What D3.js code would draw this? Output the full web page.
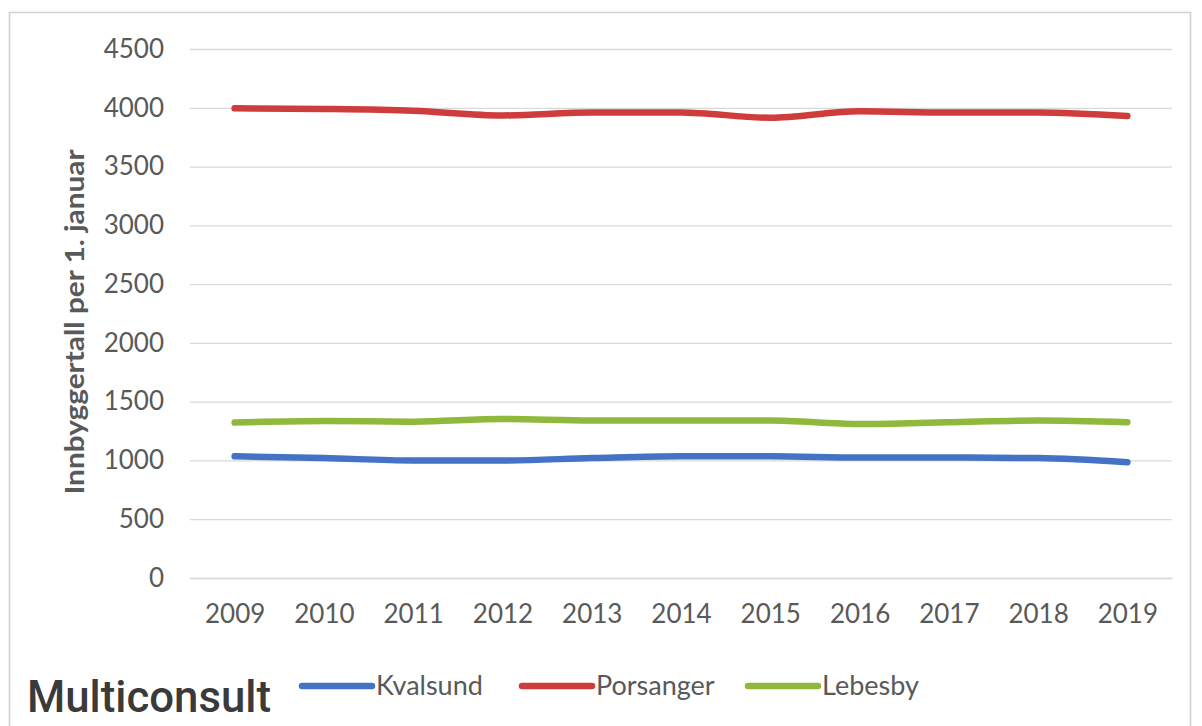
<!DOCTYPE html>
<html><head><meta charset="utf-8">
<script src="https://cdn.jsdelivr.net/npm/d3@7"></script>
<style>body{margin:0;background:#fff;} svg{display:block;}</style>
</head><body>
<svg id="c" width="1202" height="726"></svg>
<script>
const years = ["2009","2010","2011","2012","2013","2014","2015","2016","2017","2018","2019"];
const kvalsund = [1035, 1020, 1000, 1000, 1020, 1035, 1035, 1025, 1025, 1020, 985];
const porsanger = [3995, 3990, 3975, 3935, 3960, 3960, 3915, 3970, 3960, 3960, 3930];
const lebesby = [1322, 1335, 1330, 1352, 1340, 1340, 1340, 1310, 1325, 1340, 1325];
const yTicks = [0, 500, 1000, 1500, 2000, 2500, 3000, 3500, 4000, 4500];
const seriesNames = ["Kvalsund", "Porsanger", "Lebesby"];
const seriesColors = ["#4472c4", "#cf3c3c", "#8fb83c"];
const yTitle = "Innbyggertall per 1. januar";

const series = [kvalsund, porsanger, lebesby].map((v, i) => ({name: seriesNames[i], color: seriesColors[i], values: v}));
const svg = d3.select("#c");
const font = "Lato, 'Open Sans', sans-serif";

// frame
svg.append("path").attr("d", "M9.5,740 V12.5 H1190.5 V740")
  .attr("fill", "none").attr("stroke", "#d0d0d0").attr("stroke-width", 1.5);

const x = d3.scalePoint().domain(years).range([190, 1172]).padding(0.5);
const y = d3.scaleLinear().domain([0, 4500]).range([578, 49]);

// gridlines
svg.append("g").attr("transform", "translate(190,0)")
  .call(d3.axisLeft(y).tickValues(yTicks).tickSize(-(1172 - 190)).tickFormat(""))
  .call(g => g.select(".domain").remove())
  .call(g => g.selectAll("line").attr("stroke", "#d9d9d9").attr("stroke-width", 1.3));

// y labels
const yAx = svg.append("g").attr("transform", "translate(190,0)")
  .call(d3.axisLeft(y).tickValues(yTicks).tickSize(0).tickPadding(26).tickFormat(d3.format("d")));
yAx.select(".domain").remove();
yAx.selectAll("text").attr("font-family", font).attr("font-size", 26).attr("fill", "#595959");

// x labels
const xAx = svg.append("g").attr("transform", "translate(0,578)")
  .call(d3.axisBottom(x).tickSize(0).tickPadding(27));
xAx.select(".domain").attr("stroke", "#d9d9d9").attr("stroke-width", 1.3);
xAx.selectAll("text").attr("font-family", font).attr("font-size", 26).attr("fill", "#595959");

// y title
svg.append("text").attr("transform", "translate(84,322) rotate(-90)")
  .attr("text-anchor", "middle").attr("font-family", font).attr("font-weight", "bold")
  .attr("font-size", 27).attr("fill", "#595959")
  .attr("textLength", 345).attr("lengthAdjust", "spacingAndGlyphs").text(yTitle);

// lines
const line = d3.line().x((d, i) => x(years[i])).y(d => y(d)).curve(d3.curveMonotoneX);
svg.append("g").selectAll("path").data(series).join("path")
  .attr("d", d => line(d.values)).attr("fill", "none")
  .attr("stroke", d => d.color).attr("stroke-width", 6.5).attr("stroke-linecap", "round");

// legend
const legX = [302, 522, 748];
const lg = svg.append("g").selectAll("g").data(series).join("g")
  .attr("transform", (d, i) => `translate(${legX[i]},686)`);
lg.append("line").attr("x1", 0).attr("x2", 70).attr("stroke", d => d.color)
  .attr("stroke-width", 6.5).attr("stroke-linecap", "round");
lg.append("text").attr("x", 74).attr("dy", "0.35em").attr("font-family", font)
  .attr("font-size", 27).attr("fill", "#595959").text(d => d.name);

// logo
svg.append("text").attr("x", 27).attr("y", 712).attr("font-family", "Roboto, 'DejaVu Sans', sans-serif")
  .attr("font-size", 44).attr("font-weight", 500).attr("fill", "#3a3a3a")
  .attr("textLength", 244).attr("lengthAdjust", "spacingAndGlyphs")
  .text("Multiconsult");
</script>
</body></html>
